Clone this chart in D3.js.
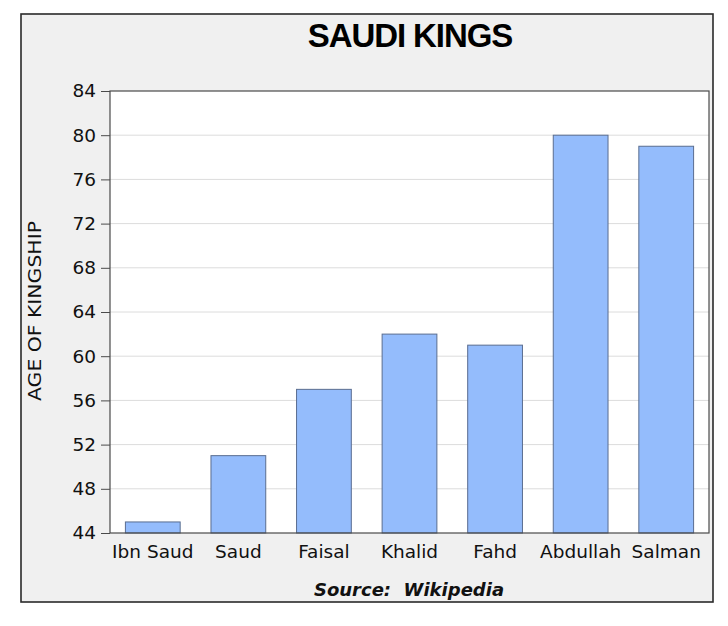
<!DOCTYPE html>
<html>
<head>
<meta charset="utf-8">
<script src="https://cdn.jsdelivr.net/npm/d3@7"></script>
<style>
  html, body { margin: 0; padding: 0; background: #ffffff; }
  svg { display: block; }
</style>
</head>
<body>
<svg id="chart" width="728" height="626"></svg>
<script>
const categories = ["Ibn Saud", "Saud", "Faisal", "Khalid", "Fahd", "Abdullah", "Salman"];
const ages = [45, 51, 57, 62, 61, 80, 79];
const yTicks = [44, 48, 52, 56, 60, 64, 68, 72, 76, 80, 84];
const titleText = "SAUDI KINGS";
const yLabelText = "AGE OF KINGSHIP";
const sourceText = "Source:  Wikipedia";

const svg = d3.select("#chart");
const frame = { x: 21, y: 14, w: 692, h: 588 };
const plot = { left: 110, right: 709, top: 91, bottom: 533 };

svg.append("rect")
  .attr("x", frame.x).attr("y", frame.y)
  .attr("width", frame.w).attr("height", frame.h)
  .attr("fill", "#f0f0f0").attr("stroke", "#2a2a2a").attr("stroke-width", 1.6);

const x = d3.scaleBand().domain(categories)
  .range([plot.left, plot.right]).paddingInner(0.36).paddingOuter(0.18);
const y = d3.scaleLinear().domain([44, 84]).range([plot.bottom, plot.top]);

svg.append("rect")
  .attr("x", plot.left).attr("y", plot.top)
  .attr("width", plot.right - plot.left).attr("height", plot.bottom - plot.top)
  .attr("fill", "#ffffff");

// grid
svg.append("g").selectAll("line").data(yTicks.slice(1, -1)).join("line")
  .attr("x1", plot.left).attr("x2", plot.right)
  .attr("y1", d => y(d)).attr("y2", d => y(d))
  .attr("stroke", "#dcdcdc").attr("stroke-width", 1);

// bars
svg.append("g").selectAll("rect").data(ages).join("rect")
  .attr("x", (d, i) => x(categories[i]))
  .attr("width", x.bandwidth())
  .attr("y", d => y(d))
  .attr("height", d => y(44) - y(d))
  .attr("fill", "#94bcfc").attr("stroke", "#5a6d90").attr("stroke-width", 1);

// plot border
svg.append("rect")
  .attr("x", plot.left).attr("y", plot.top)
  .attr("width", plot.right - plot.left).attr("height", plot.bottom - plot.top)
  .attr("fill", "none").attr("stroke", "#4a4a4a").attr("stroke-width", 1.2);

// y axis
const yAxis = d3.axisLeft(y).tickValues(yTicks).tickSize(9).tickPadding(5).tickSizeOuter(0);
const gy = svg.append("g").attr("transform", `translate(${plot.left},0)`).call(yAxis);
gy.select(".domain").remove();
gy.selectAll(".tick line").attr("stroke", "#4a4a4a");
gy.selectAll(".tick text")
  .attr("font-family", "DejaVu Sans").attr("font-size", 18.5).attr("fill", "#111");

// x axis
const xAxis = d3.axisBottom(x).tickSize(0).tickPadding(12);
const gx = svg.append("g").attr("transform", `translate(0,${plot.bottom})`).call(xAxis);
gx.select(".domain").remove();
gx.selectAll(".tick text")
  .attr("font-family", "DejaVu Sans").attr("font-size", 18.5).attr("fill", "#111");

// title
svg.append("text")
  .attr("x", 410).attr("y", 47)
  .attr("text-anchor", "middle")
  .attr("font-family", "Liberation Sans, Arial, sans-serif")
  .attr("font-weight", "bold").attr("font-size", 33)
  .attr("letter-spacing", -1.1)
  .attr("fill", "#000")
  .text(titleText);

// y label
svg.append("text")
  .attr("transform", "translate(41,311) rotate(-90)")
  .attr("text-anchor", "middle")
  .attr("font-family", "DejaVu Sans").attr("font-size", 18)
  .attr("textLength", 180).attr("lengthAdjust", "spacingAndGlyphs")
  .attr("fill", "#111")
  .text(yLabelText);

// source
svg.append("text")
  .attr("x", 409).attr("y", 596)
  .attr("text-anchor", "middle")
  .attr("font-family", "DejaVu Sans")
  .attr("font-weight", "bold").attr("font-style", "italic")
  .attr("font-size", 18)
  .style("white-space", "pre")
  .attr("fill", "#111")
  .text(sourceText);
</script>
</body>
</html>
